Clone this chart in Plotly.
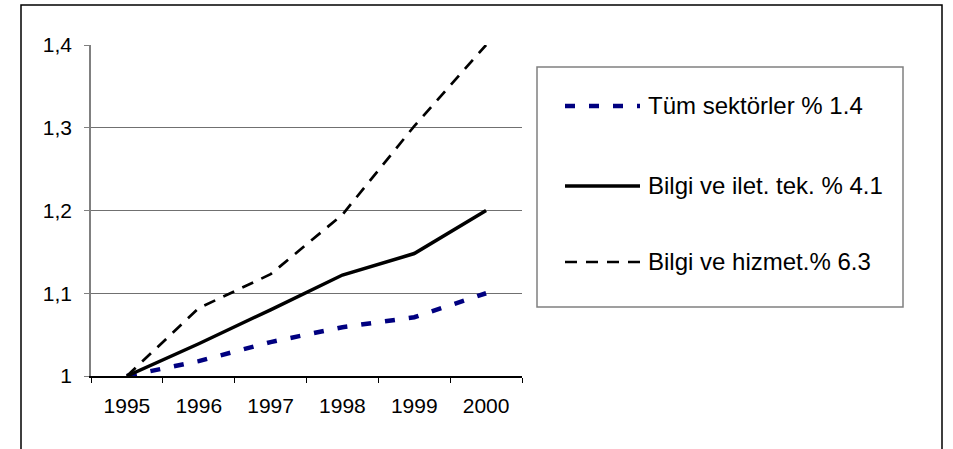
import plotly.graph_objects as go

# Index values (1995 = 1) for three sector groups
years = ["1995", "1996", "1997", "1998", "1999", "2000"]
tum_sektorler = [1.0, 1.018, 1.041, 1.059, 1.071, 1.10]
bilgi_ilet_tek = [1.0, 1.039, 1.080, 1.122, 1.148, 1.20]
bilgi_hizmet = [1.0, 1.082, 1.123, 1.195, 1.302, 1.40]
series_names = ["Tüm sektörler % 1.4", "Bilgi ve ilet. tek. % 4.1", "Bilgi ve hizmet.% 6.3"]

W, H = 953, 449
ML, MR, MT, MB = 91, 431, 45, 73
PW, PH = W - ML - MR, H - MT - MB


def px_x(x):
    return (x - ML) / PW


def px_y(y):
    return (H - MB - y) / PH


FONT = "Liberation Sans, Arial, sans-serif"
styles = [
    dict(color="#000080", width=4.5, dash="10px,14px"),
    dict(color="#000000", width=3.5, dash="solid"),
    dict(color="#000000", width=2.7, dash="12px,9px"),
]
values = [tum_sektorler, bilgi_ilet_tek, bilgi_hizmet]

fig = go.Figure()
for name, vals, st in zip(series_names, values, styles):
    fig.add_trace(go.Scatter(x=years, y=vals, mode="lines", name=name,
                             line=st, showlegend=False))

shapes = [
    # outer chart frame
    dict(type="rect", xref="paper", yref="paper",
         x0=px_x(21), x1=px_x(942), y0=px_y(470), y1=px_y(5),
         line=dict(color="#000000", width=1.5), layer="below"),
    # legend frame
    dict(type="rect", xref="paper", yref="paper",
         x0=px_x(537), x1=px_x(903), y0=px_y(307), y1=px_y(67),
         line=dict(color="#808080", width=1.5)),
]
annotations = []
row_y = [106, 186, 262]
for name, st, ry in zip(series_names, styles, row_y):
    shapes.append(dict(type="line", xref="paper", yref="paper",
                       x0=px_x(565), x1=px_x(640), y0=px_y(ry), y1=px_y(ry),
                       line=dict(color=st["color"], width=st["width"], dash=st["dash"])))
    annotations.append(dict(text=name, xref="paper", yref="paper",
                            x=px_x(646), y=px_y(ry - 1), xanchor="left", yanchor="middle",
                            showarrow=False, font=dict(family=FONT, size=24, color="#000000")))

fig.update_layout(
    width=W, height=H,
    margin=dict(l=ML, r=MR, t=MT, b=MB, pad=0),
    paper_bgcolor="#ffffff", plot_bgcolor="#ffffff",
    separators=", ",
    font=dict(family=FONT, size=21, color="#000000"),
    shapes=shapes, annotations=annotations,
    showlegend=False,
)
fig.update_xaxes(
    type="category", tickson="boundaries", range=[-0.5, 5.5],
    showline=True, linecolor="#000000", linewidth=1.5,
    ticks="outside", ticklen=5, tickcolor="#000000", tickwidth=1,
    showgrid=False, ticklabelstandoff=10,
    tickfont=dict(family=FONT, size=21),
)
fig.update_yaxes(
    range=[1.0, 1.4], dtick=0.1, tick0=1.0,
    showline=True, linecolor="#808080", linewidth=1.5,
    ticks="outside", ticklen=5, tickcolor="#808080", tickwidth=1,
    showgrid=True, gridcolor="#707070", gridwidth=1, zeroline=False,
    ticklabelstandoff=8,
    tickfont=dict(family=FONT, size=21),
)

fig.write_html("out.html")
